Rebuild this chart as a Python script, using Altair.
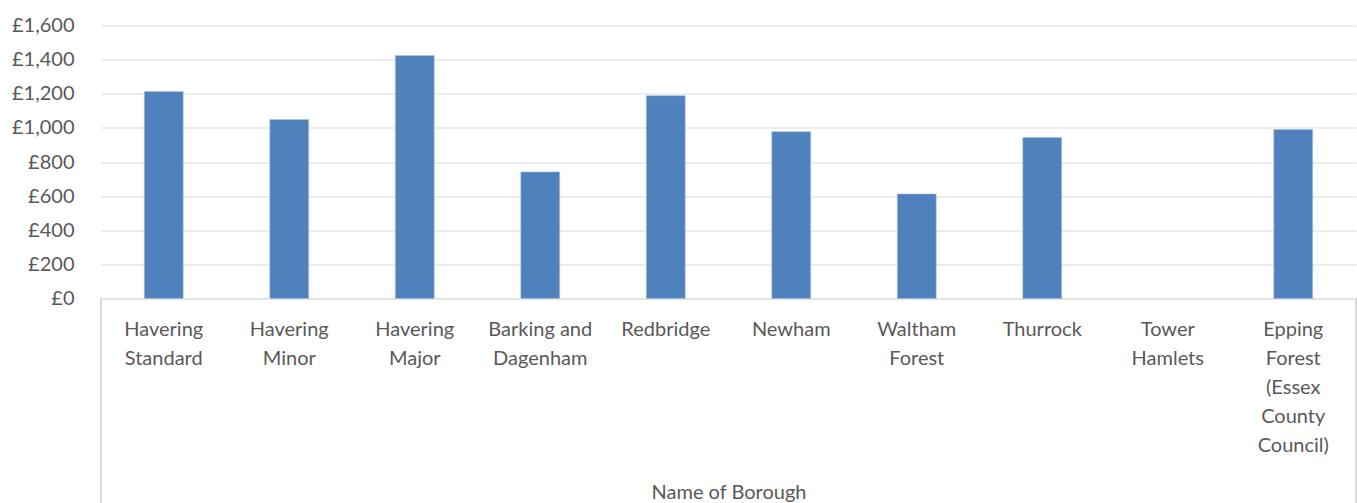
import altair as alt
import pandas as pd

# Borough names ("|" marks a line break in the axis label)
boroughs = [
    "Havering|Standard",
    "Havering|Minor",
    "Havering|Major",
    "Barking and|Dagenham",
    "Redbridge",
    "Newham",
    "Waltham|Forest",
    "Thurrock",
    "Tower|Hamlets",
    "Epping|Forest|(Essex|County|Council)",
]
# Cost per borough in pounds (no figure for Tower Hamlets)
costs = [1213, 1049, 1424, 742, 1189, 978, 613, 943, None, 990]

y_ticks = [0, 200, 400, 600, 800, 1000, 1200, 1400, 1600]

df = pd.DataFrame({"borough": boroughs, "cost": costs})

W, H = 1255, 273
FONT = "Lato"
FS = 20
TEXT = "#595959"
GRID = "#d9d9d9"

bars = alt.Chart(df).mark_bar(color="#4f81bd", stroke="#a9c1e0", strokeWidth=0.6).encode(
    x=alt.X(
        "borough:N",
        sort=boroughs,
        scale=alt.Scale(paddingInner=0.69, paddingOuter=0.345),
        axis=alt.Axis(
            title="Name of Borough",
            titleFont=FONT,
            titleFontSize=FS,
            titleFontWeight="normal",
            titleColor=TEXT,
            titleY=194,
            titleBaseline="middle",
            labelExpr="split(datum.label, '|')",
            labelAngle=0,
            labelFont=FONT,
            labelFontSize=FS,
            labelColor=TEXT,
            labelLineHeight=29,
            labelBaseline="top",
            labelPadding=21,
            labelLimit=300,
            ticks=False,
            domainColor=GRID,
            domainWidth=1,
        ),
    ),
    y=alt.Y(
        "cost:Q",
        scale=alt.Scale(domain=[0, 1600], nice=False),
        axis=alt.Axis(
            title=None,
            values=y_ticks,
            format=",.0f",
            labelExpr="'£' + datum.label",
            labelFont=FONT,
            labelFontSize=FS,
            labelColor=TEXT,
            labelPadding=27,
            ticks=False,
            domain=False,
            gridColor=GRID,
            gridWidth=1,
        ),
    ),
)

# Frame lines down the sides of the category label area
frame_left = alt.Chart(df).mark_rule(color=GRID, strokeWidth=1).encode(
    x=alt.value(0), y=alt.value(H), y2=alt.value(H + 215)
)
frame_right = alt.Chart(df).mark_rule(color=GRID, strokeWidth=1).encode(
    x=alt.value(W), y=alt.value(H), y2=alt.value(H + 215)
)

chart = (
    alt.layer(bars, frame_left, frame_right)
    .properties(
        width=W,
        height=H,
        autosize="none",
        background="white",
        padding={"left": 101, "top": 25.5, "right": 1, "bottom": 204.5},
    )
    .configure_view(stroke=None, strokeWidth=0)
)

chart.save("out.html", embed_options={"renderer": "svg", "actions": False})
